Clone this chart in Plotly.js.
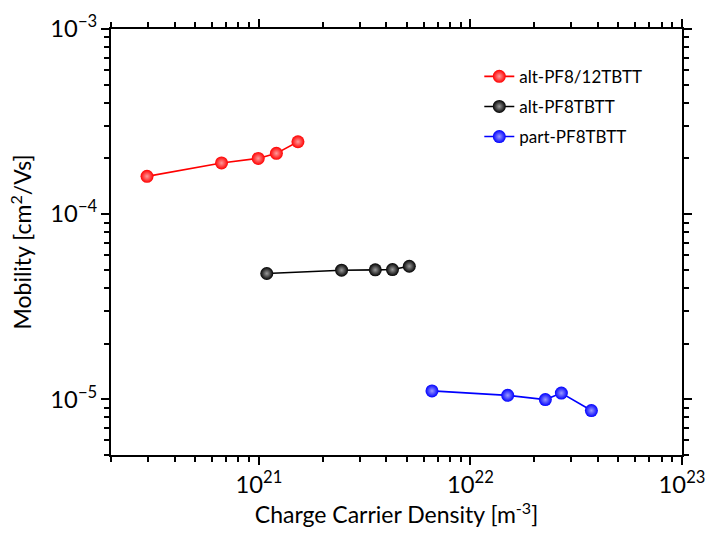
<!DOCTYPE html>
<html><head><meta charset="utf-8">
<script src="https://cdn.plot.ly/plotly-3.0.1.min.js"></script>
<style>body{margin:0;background:#fff}#chart{width:707px;height:535px}</style>
</head><body><div id="chart"></div>
<script>
const seriesNames = ["alt-PF8/12TBTT", "alt-PF8TBTT", "part-PF8TBTT"];
const redX = [2.96e20, 6.66e20, 9.93e20, 1.21e21, 1.53e21];
const redY = [1.60e-4, 1.89e-4, 2.00e-4, 2.13e-4, 2.46e-4];
const blackX = [1.09e21, 2.46e21, 3.55e21, 4.28e21, 5.14e21];
const blackY = [4.78e-5, 4.98e-5, 5.00e-5, 5.02e-5, 5.23e-5];
const blueX = [6.58e21, 1.50e22, 2.26e22, 2.69e22, 3.73e22];
const blueY = [1.11e-5, 1.05e-5, 9.96e-6, 1.08e-5, 8.69e-6];
const xRange = [2e20, 1e23];
const yRange = [5e-6, 1e-3];

const colors = ["#ff0000", "#000000", "#0000ff"];
const centers = ["#ff9a9a", "#9a9a9a", "#9a9aff"];
function tr(x, y, i) {
  return {
    x: x, y: y, name: seriesNames[i], type: "scatter", mode: "lines+markers",
    legendgroup: "g" + i,
    line: {color: colors[i], width: 1.6},
    marker: {color: colors[i], size: 13, gradient: {type: "radial", color: centers[i]},
             line: {width: 0}}
  };
}
const data = [tr(redX, redY, 0), tr(blackX, blackY, 1), tr(blueX, blueY, 2)];
const lx = xRange.map(Math.log10), ly = yRange.map(Math.log10);
const font = "Lato, 'Open Sans', sans-serif";
const common = {type: "log", showgrid: false, zeroline: false, showline: true, linecolor: "#000", linewidth: 2,
  ticks: "outside", ticklen: 8, tickcolor: "#000", tickwidth: 2, mirror: "ticks",
  dtick: 1, exponentformat: "power", tickfont: {size: 19},
  minor: {ticks: "outside", ticklen: 5, tickwidth: 2, tickcolor: "#000", showgrid: false}};
const layout = {
  width: 707, height: 535, paper_bgcolor: "#fff", plot_bgcolor: "#fff",
  margin: {l: 111, r: 25, t: 29, b: 80},
  font: {family: font, color: "#000"},
  showlegend: true,
  legend: {x: 0.645, xanchor: "left", y: 0.93, yanchor: "top", font: {size: 17, family: font},
           bgcolor: "rgba(0,0,0,0)", tracegroupgap: 5},
  xaxis: Object.assign({}, common, {range: lx,
    title: {text: "Charge Carrier Density [m<sup>-3</sup>]", font: {size: 23}, standoff: 10}}),
  yaxis: Object.assign({}, common, {range: ly,
    title: {text: "Mobility [cm<sup>2</sup>/Vs]", font: {size: 23}, standoff: 12}})
};
Plotly.newPlot("chart", data, layout, {displayModeBar: false});
</script></body></html>
